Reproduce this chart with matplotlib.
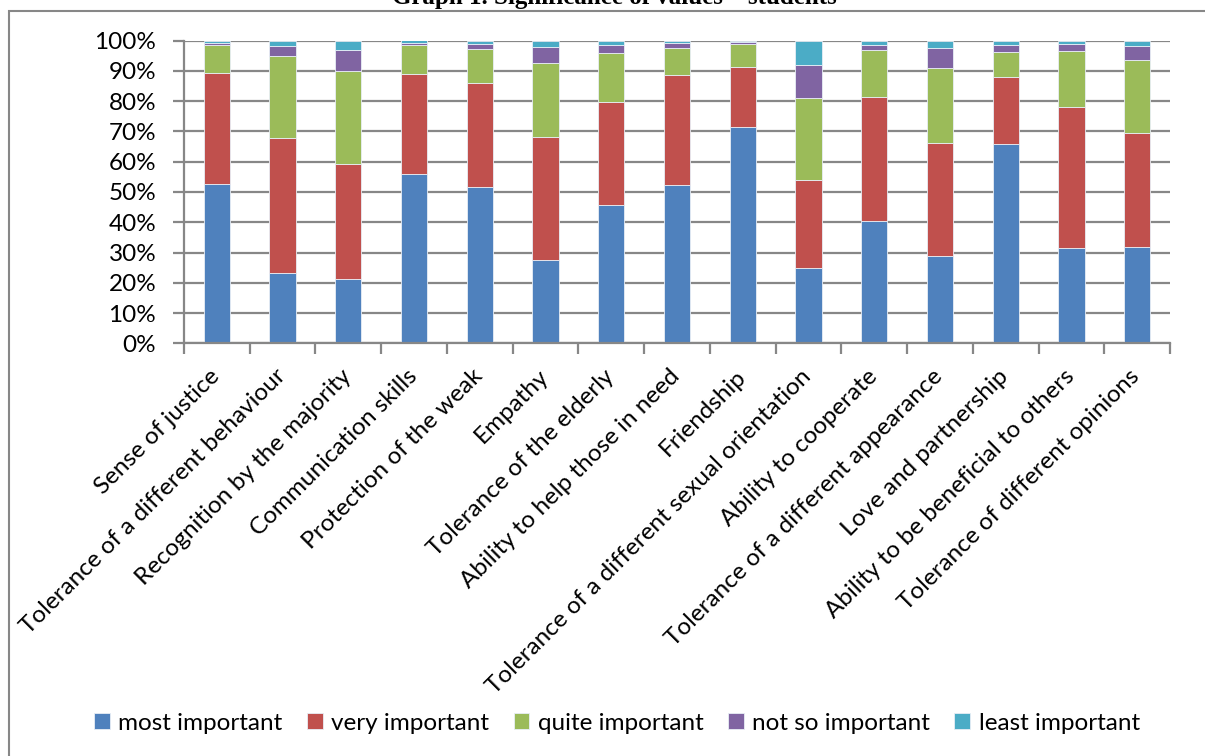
import numpy as np
import matplotlib.pyplot as plt
import matplotlib.transforms as mtransforms
from matplotlib.patches import Rectangle

plt.rcParams['font.family'] = ['Lato', 'DejaVu Sans']

values = ['Sense of justice', 'Tolerance of a different behaviour',
          'Recognition by the majority', 'Communication skills',
          'Protection of the weak', 'Empathy', 'Tolerance of the elderly',
          'Ability to help those in need', 'Friendship',
          'Tolerance of a different sexual orientation', 'Ability to cooperate',
          'Tolerance of a different appearance', 'Love and partnership',
          'Ability to be beneficial to others', 'Tolerance of different opinions']

# shares of answers (%) per value
most_important = [52.5, 23.1, 21.1, 55.9, 51.5, 27.4, 45.7, 52.3, 71.6, 25.0, 40.3, 28.7, 65.9, 31.5, 31.8]
very_important = [36.9, 44.8, 38.0, 33.2, 34.6, 40.9, 34.0, 36.5, 19.8, 28.9, 41.1, 37.4, 22.2, 46.7, 37.8]
quite_important = [9.3, 27.1, 30.8, 9.4, 11.1, 24.3, 16.4, 8.8, 7.4, 27.0, 15.5, 24.9, 8.3, 18.4, 24.0]
not_so_important = [0.4, 3.4, 7.0, 0.9, 1.8, 5.2, 2.4, 1.5, 0.9, 11.0, 1.8, 6.5, 2.3, 2.4, 4.5]
least_important = [0.9, 1.5, 3.0, 0.7, 1.0, 2.2, 1.5, 0.9, 0.3, 8.1, 1.3, 2.5, 1.3, 1.0, 1.9]

series = [('most important', most_important, '#4F81BD'),
          ('very important', very_important, '#C0504D'),
          ('quite important', quite_important, '#9BBB59'),
          ('not so important', not_so_important, '#8064A2'),
          ('least important', least_important, '#4BACC6')]

grid_col = '#878787'
fs = 17.5

fig = plt.figure(figsize=(12.05, 7.56), dpi=100)

# chart frame, running off the right and bottom edges
fig.patches.append(Rectangle((9 / 1205, -0.05), 1.1, 1 - 11.5 / 756 + 0.05,
                             transform=fig.transFigure, fill=False,
                             edgecolor=grid_col, linewidth=1.5, zorder=0))

fig.text(0.51, 1 - 4 / 756, 'Graph 1. Significance of values \u2013 students',
         family='Liberation Serif', fontweight='bold', fontsize=18,
         ha='center', va='baseline')

ax = fig.add_axes([184 / 1205, 1 - 343.3 / 756, (1170 - 184) / 1205, (343.3 - 40.7) / 756])

x = np.arange(len(values))
bottom = np.zeros(len(values))
for name, vals, col in series:
    vals = np.array(vals) / 100
    ax.bar(x, vals, 0.4, bottom=bottom, color=col, edgecolor='#e8eef6',
           linewidth=0.6, label=name, zorder=3)
    bottom += vals

ax.set_xlim(-0.5, len(values) - 0.5)
ax.set_ylim(0, 1)
ax.set_yticks(np.arange(0, 1.01, 0.1))
ax.set_yticklabels([f'{int(round(v * 100))}%' for v in np.arange(0, 1.01, 0.1)])
ax.yaxis.grid(True, color=grid_col, linewidth=1.6, zorder=0)

# category ticks sit between the bars
ax.set_xticks(np.arange(-0.5, len(values), 1.0))
ax.set_xticklabels([])
ax.set_xticks(x, minor=True)
ax.set_xticklabels(values, minor=True, rotation=45, ha='right', va='top',
                   rotation_mode='anchor', fontsize=fs)
ax.tick_params(axis='x', which='minor', length=0, pad=16)
ax.tick_params(axis='x', which='major', length=8, width=1.6, color=grid_col)
ax.tick_params(axis='y', length=8, width=1.6, color=grid_col, labelsize=fs, pad=12)

# nudge the slanted labels a little to the left
shift = mtransforms.ScaledTranslation(-8 / 100, 0, fig.dpi_scale_trans)
for lbl in ax.get_xticklabels(minor=True):
    lbl.set_transform(lbl.get_transform() + shift)

for side in ['top', 'right']:
    ax.spines[side].set_visible(False)
for side in ['left', 'bottom']:
    ax.spines[side].set_color(grid_col)
    ax.spines[side].set_linewidth(1.6)
    ax.spines[side].set_zorder(4)

handles, labels = ax.get_legend_handles_labels()
fig.legend(handles, labels, loc='center', bbox_to_anchor=(0.512, 1 - 723 / 756),
           ncol=5, frameon=False, fontsize=fs, handlelength=0.65, handleheight=0.65,
           handletextpad=0.35, columnspacing=1.0)

fig.savefig('out.png', dpi=100)
